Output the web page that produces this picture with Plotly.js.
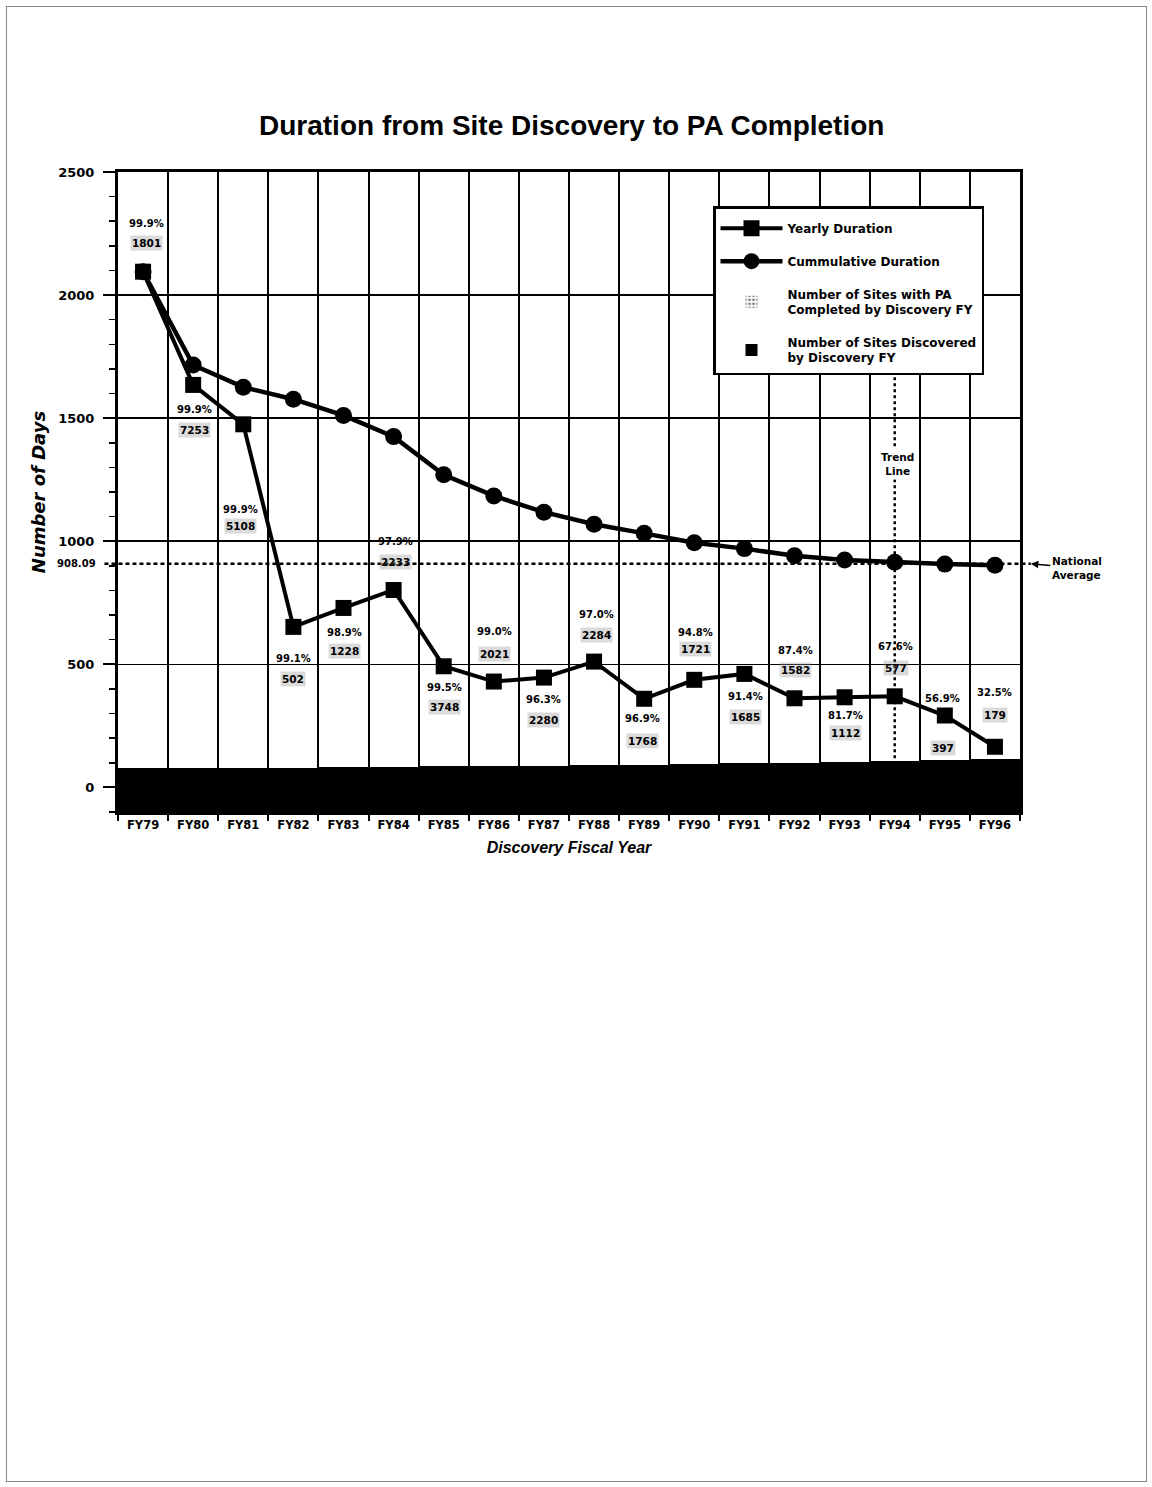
<!DOCTYPE html>
<html>
<head>
<meta charset="utf-8">
<script src="https://cdn.plot.ly/plotly-3.0.1.min.js"></script>
<style>
html,body{margin:0;padding:0;background:#fff;}
#chart{width:1152px;height:1487px;}
#frame{position:absolute;left:6px;top:6px;width:1139px;height:1474px;border:1px solid #8a8a8a;pointer-events:none;}
</style>
</head>
<body>
<div id="chart"></div>
<div id="frame"></div>
<script>
// ---- data ----
const categories = ['FY79','FY80','FY81','FY82','FY83','FY84','FY85','FY86','FY87','FY88','FY89','FY90','FY91','FY92','FY93','FY94','FY95','FY96'];
const yearlyDuration = [2095,1635,1475,652,729,802,492,430,446,511,360,437,461,362,366,370,292,165];
const cumulativeDuration = [2095,1716,1626,1577,1511,1425,1270,1184,1118,1069,1032,994,970,941,924,915,907,902];
const pctCompleted = ['99.9%','99.9%','99.9%','99.1%','98.9%','97.9%','99.5%','99.0%','96.3%','97.0%','96.9%','94.8%','91.4%','87.4%','81.7%','67.6%','56.9%','32.5%'];
const sitesCompleted = ['1801','7253','5108','502','1228','2233','3748','2021','2280','2284','1768','1721','1685','1582','1112','577','397','179'];
// visible height of the bar band at the bottom (in days scale)
const bandCompleted = [78,76,76,78,80,82,83,84,86,88,90,93,96,98,102,106,110,113];
const bandDiscovered = [80,78,78,80,82,84,85,86,88,90,92,95,98,100,104,108,112,115];
const nationalAverage = 908.09;

// ---- layout helpers (positions/styles, not data) ----
const yMin = -100, yMax = 2500;
const pctOffset = [-48,25,85,32,25,-48,21,-50,22,-47,20,-47,23,-48,18,-50,-17,-54];
const cntOffset = [-29,45,102,52,43,-28,41,-28,42,-27,42,-31,43,-28,36,-28,32,-32];
const labelXShift = [3,1,-3,0,1,2,1,1,0,2,-2,1,1,1,1,1,-2,0];

const blackFont = (size, extra) => Object.assign({family:'DejaVu Sans', size:size, color:'#000', weight:'bold'}, extra||{});

const traces = [
  {
    type:'bar', x:categories, y:bandCompleted.map(v => v - yMin), base:yMin,
    name:'Number of Sites with PA<br>Completed by Discovery FY',
    marker:{color:'#ffffff', pattern:{shape:'.', fgcolor:'#6f6f6f', bgcolor:'#ffffff', size:5, solidity:0.35}, line:{width:0}},
    legendrank:3, legendgroup:'c', hoverinfo:'skip'
  },
  {
    type:'bar', x:categories, y:bandDiscovered.map(v => v - yMin), base:yMin,
    name:'Number of Sites Discovered<br>by Discovery FY',
    marker:{color:'#000000', line:{width:0}},
    legendrank:4, legendgroup:'d', hoverinfo:'skip'
  },
  {
    type:'scatter', mode:'lines+markers', x:categories, y:cumulativeDuration,
    name:'Cummulative Duration',
    line:{color:'#000', width:4.5},
    marker:{symbol:'circle', size:17, color:'#000'},
    legendrank:2, legendgroup:'b'
  },
  {
    type:'scatter', mode:'lines+markers', x:categories, y:yearlyDuration,
    name:'Yearly Duration',
    line:{color:'#000', width:4},
    marker:{symbol:'square', size:16, color:'#000'},
    legendrank:1, legendgroup:'a'
  }
];

const annotations = [];
categories.forEach((c, i) => {
  annotations.push({
    x:c, y:yearlyDuration[i], xref:'x', yref:'y', showarrow:false,
    text:pctCompleted[i], font:blackFont(10), yshift:-pctOffset[i], xshift:labelXShift[i]
  });
  annotations.push({
    x:c, y:yearlyDuration[i], xref:'x', yref:'y', showarrow:false,
    text:sitesCompleted[i], font:blackFont(10.5), yshift:-cntOffset[i], xshift:labelXShift[i],
    bgcolor:'rgba(150,150,150,0.35)', borderpad:1
  });
});
annotations.push({
  xref:'paper', x:0, yref:'y', y:nationalAverage, xanchor:'right', xshift:-20, showarrow:false,
  text:'908.09', font:blackFont(10)
});
annotations.push({
  xref:'paper', x:1.012, yref:'y', y:nationalAverage, showarrow:true, arrowhead:2, arrowsize:1, arrowwidth:1.5,
  arrowcolor:'#000', ax:46, ay:4, text:'National<br>Average', align:'left', font:blackFont(10.5)
});
annotations.push({
  xref:'x', x:'FY94', yref:'y', y:1314, showarrow:false, text:'Trend<br>Line',
  font:blackFont(10.5), bgcolor:'#ffffff', borderpad:2, xshift:3
});

const layout = {
  width:1152, height:1487,
  margin:{l:118, r:132, t:172, b:675},
  paper_bgcolor:'#ffffff', plot_bgcolor:'#ffffff',
  showlegend:true,
  barmode:'overlay', bargap:0,
  title:{
    text:'Duration from Site Discovery to PA Completion',
    font:{family:'Liberation Sans', size:28, weight:'bold', color:'#000'},
    xref:'paper', x:0.503, xanchor:'center', yref:'container', y:1-125/1487, yanchor:'middle'
  },
  xaxis:{
    type:'category', categoryorder:'array', categoryarray:categories, range:[-0.5,17.5],
    tickson:'boundaries', ticks:'outside', ticklen:6, tickwidth:2, tickcolor:'#000',
    showgrid:true, gridcolor:'#000', gridwidth:2,
    showline:true, linecolor:'#000', linewidth:3, mirror:true,
    tickfont:blackFont(11.5),
    title:{text:'Discovery Fiscal Year', font:{family:'Liberation Sans', size:16, weight:'bold', style:'italic', color:'#000'}, standoff:12},
    automargin:false, fixedrange:true
  },
  yaxis:{
    range:[yMin, yMax], tick0:0, dtick:500,
    ticks:'outside', ticklen:12, tickwidth:2, tickcolor:'#000',
    showgrid:true, gridcolor:'#000', gridwidth:1.5, zeroline:false,
    showline:true, linecolor:'#000', linewidth:3, mirror:true,
    tickfont:blackFont(13), ticklabelstandoff:6,
    minor:{dtick:100, tick0:0, ticks:'outside', ticklen:6, tickwidth:1.5, tickcolor:'#000', showgrid:false},
    title:{text:'Number of Days', font:{family:'DejaVu Sans', size:18, weight:'bold', style:'italic', color:'#000'}, standoff:8},
    automargin:false, fixedrange:true
  },
  legend:{
    x:(713-118)/902, y:(812-206)/640, xanchor:'left', yanchor:'top',
    bgcolor:'#ffffff', bordercolor:'#000', borderwidth:2.5,
    font:blackFont(12), itemwidth:62, tracegroupgap:14, traceorder:'grouped', valign:'middle',
    title:{text:' ', font:{size:4}}
  },
  shapes:[
    {type:'line', xref:'paper', x0:-0.015, x1:1.012, yref:'y', y0:nationalAverage, y1:nationalAverage,
     line:{color:'#000', width:2.5, dash:'4px,3px'}, layer:'above'},
    {type:'line', xref:'x', x0:'FY94', x1:'FY94', yref:'y', y0:70, y1:1713,
     line:{color:'#000', width:2.5, dash:'dot'}, layer:'above'}
  ],
  annotations:annotations
};

Plotly.newPlot('chart', traces, layout, {displayModeBar:false, staticPlot:true});
</script>
</body>
</html>
